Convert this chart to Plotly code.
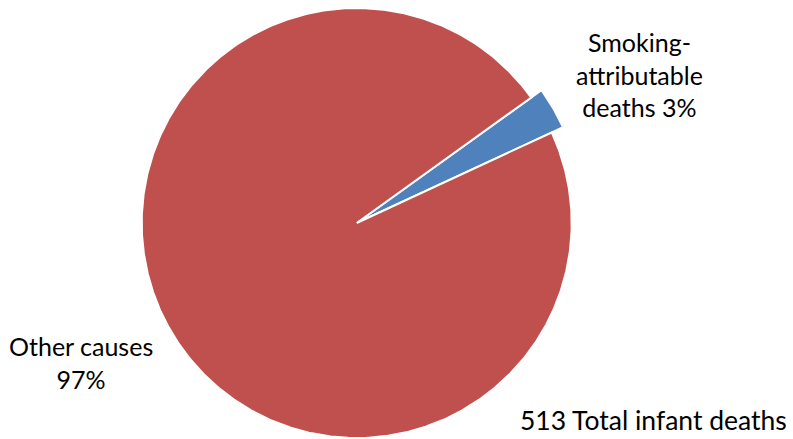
import numpy as np
import plotly.graph_objects as go

# Share of infant deaths by cause (percent)
causes = ["Smoking-attributable deaths", "Other causes"]
shares = [3, 97]
total_deaths = 513

slice_colors = ["#4F81BD", "#C0504D"]
slice_radius = [227.5, 215]   # the smoking slice sticks out past the rest of the pie
start_angle = 54.3            # degrees clockwise from 12 o'clock

W, H = 793, 439
cx, cy = 356.7, H - 223.0     # pie centre in axis units (1 unit = 1 px, y upwards)

# angular extent of every slice from its share
total = sum(shares)
spans = [s / total * 360 for s in shares]

fig = go.Figure()
acc = start_angle
for name, span, rad, col in zip(causes, spans, slice_radius, slice_colors):
    ang = np.radians(np.linspace(acc, acc + span, max(int(span * 2), 4)))
    xs = np.concatenate([[cx], cx + rad * np.sin(ang), [cx]])
    ys = np.concatenate([[cy], cy + rad * np.cos(ang), [cy]])
    fig.add_trace(go.Scatter(
        x=xs, y=ys, name=name, mode="lines", fill="toself",
        fillcolor=col, line=dict(color="white", width=2),
        hoverinfo="skip", showlegend=False,
    ))
    acc += span

font = dict(family="Lato, Carlito, sans-serif", size=25, color="#000000")
font_total = dict(font, size=26.5)

fig.update_layout(
    width=W, height=H,
    margin=dict(l=0, r=0, t=0, b=0),
    paper_bgcolor="white",
    plot_bgcolor="white",
    xaxis=dict(visible=False, range=[0, W], fixedrange=True),
    yaxis=dict(visible=False, range=[0, H], fixedrange=True),
    annotations=[
        dict(text=f"Smoking-<br>attributable<br>deaths {shares[0]}%",
             x=639 / W, y=1 - 75 / H, xref="paper", yref="paper",
             xanchor="center", yanchor="middle", showarrow=False, font=font, align="center"),
        dict(text=f"Other causes<br>{shares[1]}%",
             x=81 / W, y=1 - 362 / H, xref="paper", yref="paper",
             xanchor="center", yanchor="middle", showarrow=False, font=font, align="center"),
        dict(text=f"{total_deaths} Total infant deaths",
             x=653.5 / W, y=1 - 420 / H, xref="paper", yref="paper",
             xanchor="center", yanchor="middle", showarrow=False, font=font_total),
    ],
)

fig.write_html("out.html")
